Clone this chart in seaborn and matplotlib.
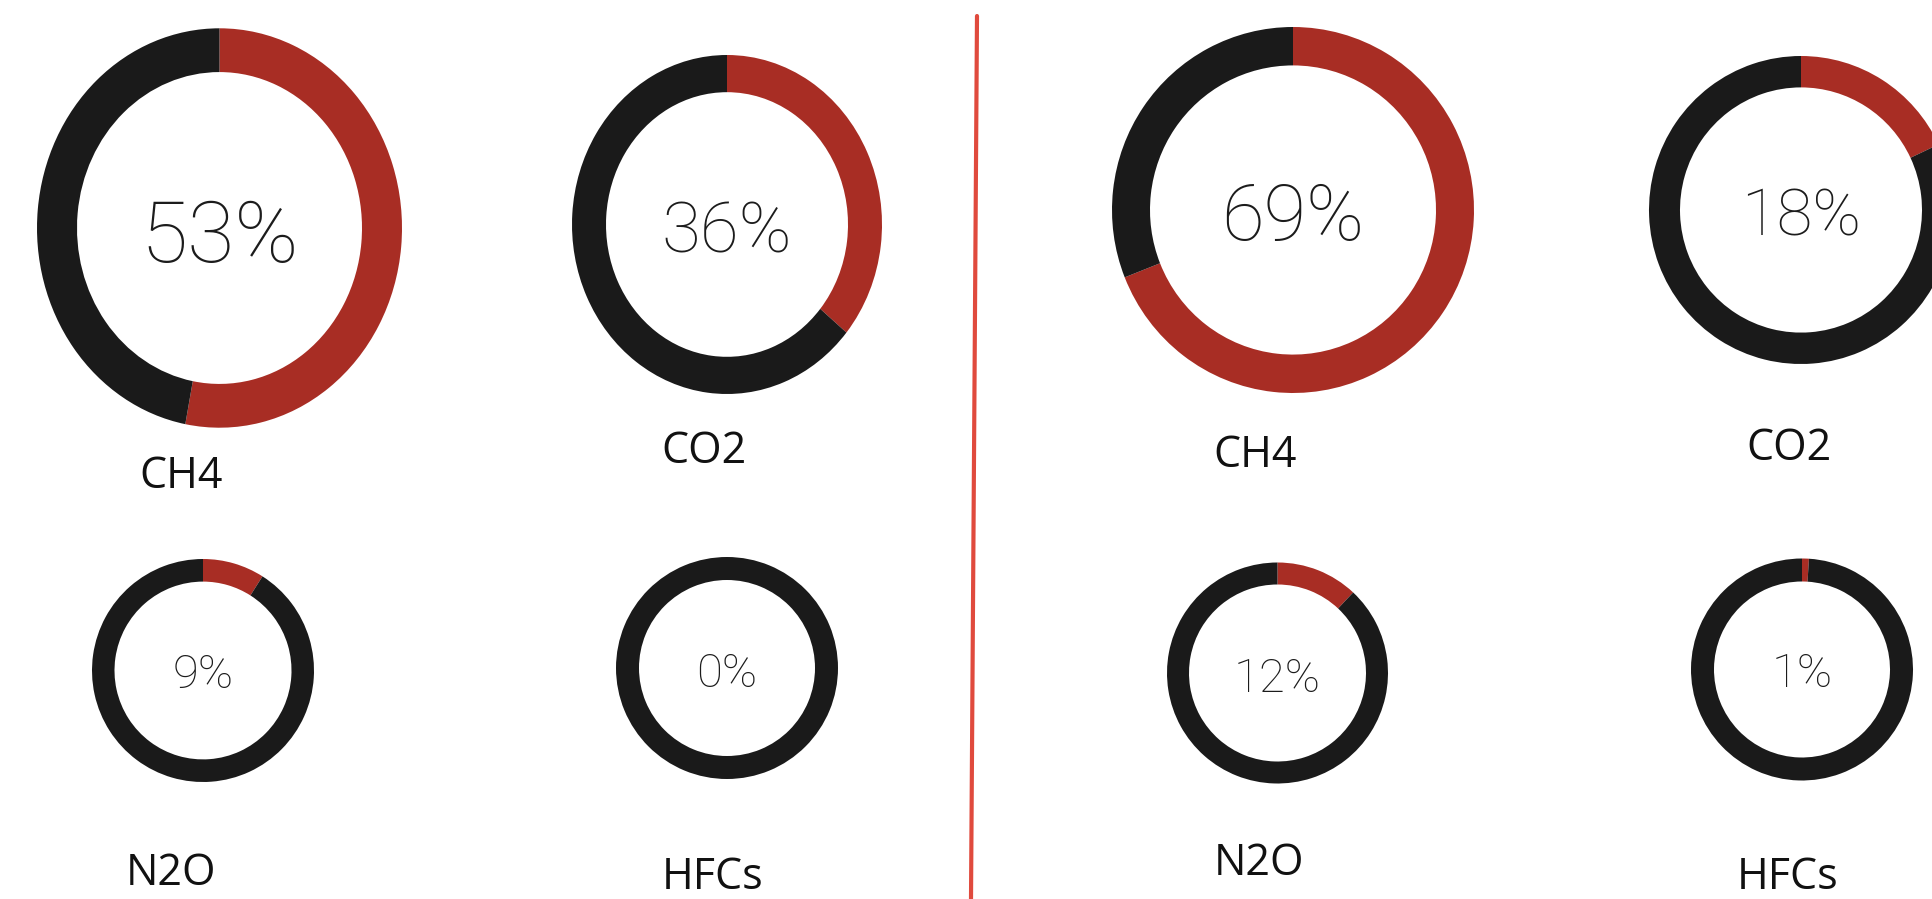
import matplotlib
matplotlib.use("Agg")
import matplotlib.pyplot as plt
from matplotlib.lines import Line2D
import seaborn as sns

# data
gases = ["CH4", "CO2", "N2O", "HFCs"]
left_share = [53, 36, 9, 0]
right_share = [69, 18, 12, 1]

W, H = 1933, 899
red = "#a82d24"
black = "#1a1a1a"

sns.set_theme(style="white")
plt.rcParams["font.family"] = ["Open Sans", "DejaVu Sans"]

# layout in pixels: ring centre x, y, radius x, radius y, ring thickness,
# percent font size, percent baseline y, label x, label baseline y
left_layout = [
    (219.5, 228, 182.5, 199.7, 40, 62, 262, 181, 488),
    (727, 224.5, 155, 169.5, 34, 51, 252, 704, 463),
    (203, 670.5, 111, 111.5, 22.5, 34, 688, 171, 885),
    (727, 668, 111, 111, 23, 34, 687, 713, 889),
]
right_layout = [
    (1293, 210, 181, 183, 38, 56, 240, 1255, 467),
    (1801, 210, 152, 154, 31, 47, 235, 1789, 460),
    (1277.5, 673, 110.5, 110.5, 22, 34, 692, 1259, 875),
    (1802, 669.5, 111, 111, 23, 34, 687, 1788, 889),
]

fig = plt.figure(figsize=(W / 100, H / 100), dpi=100)
fig.patch.set_facecolor("white")


def draw_ring(share, name, lay):
    cx, cy, rx, ry, thick, fs, pby, lx, lby = lay
    ax = fig.add_axes([(cx - rx) / W, 1 - (cy + ry) / H, 2 * rx / W, 2 * ry / H])
    ax.pie([share, 100 - share], colors=[red, black], startangle=90,
           counterclock=False, radius=1,
           wedgeprops=dict(width=thick / rx, linewidth=0))
    ax.set_aspect("auto")
    ax.set_xlim(-1, 1)
    ax.set_ylim(-1, 1)
    ax.axis("off")
    fig.text(cx / W, 1 - pby / H, f"{share}%", ha="center", va="baseline",
             fontsize=fs, color="#1c1c1c", fontweight="light",
             family=["Roboto", "DejaVu Sans"])
    fig.text(lx / W, 1 - lby / H, name, ha="center", va="baseline",
             fontsize=31, color="#111111")


for share, name, lay in zip(left_share, gases, left_layout):
    draw_ring(share, name, lay)
for share, name, lay in zip(right_share, gases, right_layout):
    draw_ring(share, name, lay)

# divider between the two panels
fig.add_artist(Line2D([977 / W, 971 / W], [1 - 16 / H, 0], color="#e04a3d",
                      linewidth=3, transform=fig.transFigure))

fig.savefig("out.png", dpi=100, facecolor="white")
